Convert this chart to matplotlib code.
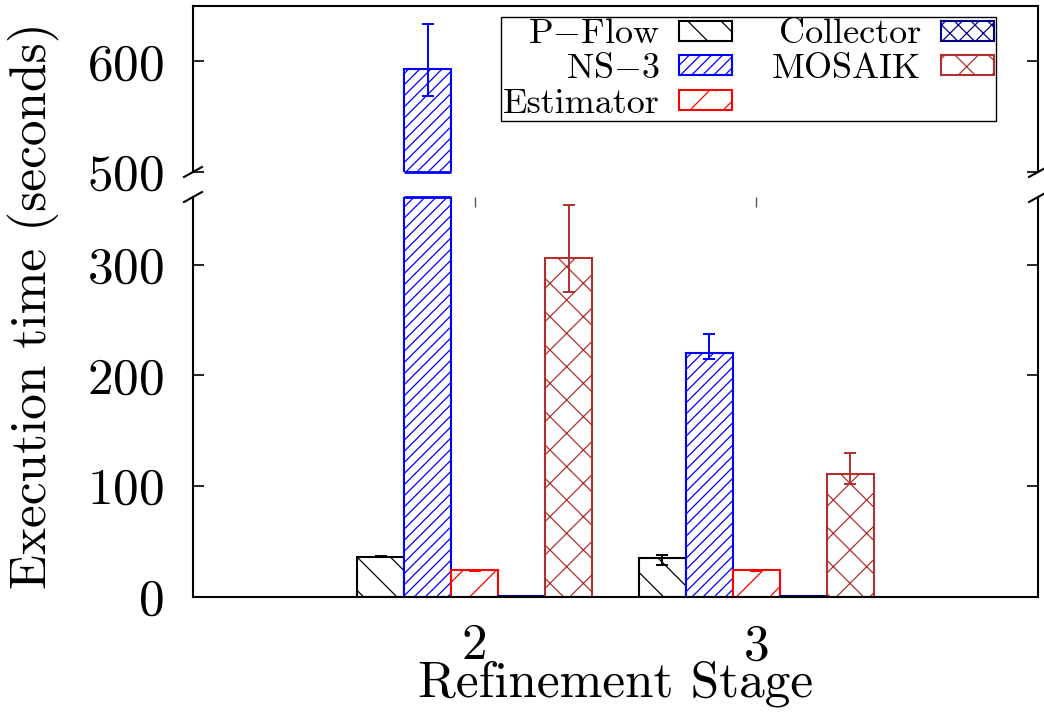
import numpy as np
import matplotlib
matplotlib.use("Agg")
import matplotlib.pyplot as plt

plt.rcParams['font.family'] = 'cmr10'
plt.rcParams['mathtext.fontset'] = 'cm'
plt.rcParams['axes.formatter.use_mathtext'] = True
plt.rcParams['hatch.linewidth'] = 0.9

# data
stages = [2, 3]
stage_labels = ["2", "3"]
series = ["P$-$Flow", "NS$-$3", "Estimator", "Collector", "MOSAIK"]
pflow = [36.5, 35.5]
ns3 = [593, 220]
estimator = [24, 24]
collector = [0.8, 0.8]
mosaik = [306, 111]
pflow_err = [[0.5, 6.5], [0.5, 2.5]]
ns3_err = [[24, 5], [41, 17]]
estimator_err = [[0.3, 0.3], [0.3, 0.3]]
collector_err = [[0, 0], [0, 0]]
mosaik_err = [[31, 9], [48, 19]]

values = [pflow, ns3, estimator, collector, mosaik]
errors = [pflow_err, ns3_err, estimator_err, collector_err, mosaik_err]
colors = ["black", "#0000ff", "#ff0000", "#00008b", "#b03030"]
hatches = ["\\", "///", "/", "xx", "x"]

fig = plt.figure(figsize=(10.44, 7.13), dpi=100)
ax_top = fig.add_axes([0.1849, 0.7588, 0.8094, 0.2328])
ax_bot = fig.add_axes([0.1849, 0.1627, 0.8094, 0.5610])

top_lim = (500, 650)
bot_lim = (0, 361)

w = 1 / 6
x = np.array(stages, dtype=float)
for ax, (lo, hi) in ((ax_top, top_lim), (ax_bot, bot_lim)):
    for i, (vals, err, c, h, name) in enumerate(zip(values, errors, colors, hatches, series)):
        xi = x + (i - 2) * w
        ax.bar(xi, vals, width=w, color="white", edgecolor=c,
               hatch=h, linewidth=1.5, label=name,
               yerr=err, error_kw=dict(ecolor=c, capsize=4, elinewidth=1.4, capthick=1.4))
        # gnuplot draws an edge where a bar is cut by the axis range
        v = np.array(vals)
        cut_top = v > hi
        if cut_top.any():
            ax.hlines(np.full(cut_top.sum(), hi), xi[cut_top] - w / 2, xi[cut_top] + w / 2,
                      color=c, lw=2, clip_on=False, zorder=3)
        cut_bot = v > lo if lo > 0 else np.zeros_like(v, dtype=bool)
        if cut_bot.any():
            ax.hlines(np.full(cut_bot.sum(), lo), xi[cut_bot] - w / 2, xi[cut_bot] + w / 2,
                      color=c, lw=2, clip_on=False, zorder=3)
    ax.set_xlim(1, 4)
    ax.set_ylim(lo, hi)
    for s in ax.spines.values():
        s.set_linewidth(1.5)

ax_top.spines['bottom'].set_visible(False)
ax_bot.spines['top'].set_visible(False)

ax_top.set_yticks([500, 600])
ax_bot.set_yticks([0, 100, 200, 300])
ax_top.set_xticks([])
ax_bot.set_xticks(stages)
ax_bot.set_xticklabels(stage_labels)

for ax in (ax_top, ax_bot):
    ax.tick_params(axis='y', direction='in', left=True, right=True, length=8,
                   width=1.2, labelsize=37, pad=21)
ax_bot.tick_params(axis='x', direction='in', bottom=False, top=True, length=7,
                   width=1, color='#555555', labelsize=37, pad=19)

# break marks on the spines
dx, dy = 9 / 845, 5 / 166
for xs in (0, 1):
    ax_top.plot([xs - dx, xs + dx], [-dy, dy], color='black', lw=1.5,
                transform=ax_top.transAxes, clip_on=False)
dy2 = 5 / 400
for xs in (0, 1):
    ax_bot.plot([xs - dx, xs + dx], [1 - dy2, 1 + dy2], color='black', lw=1.5,
                transform=ax_bot.transAxes, clip_on=False)

ax_bot.set_xlabel("Refinement Stage", fontsize=37)
ax_bot.xaxis.set_label_coords(0.5, -0.25)
ax_bot.xaxis.label.set_va('baseline')
fig.text(0.032, 0.571, "Execution time (seconds)", rotation=90,
         ha='center', va='center', fontsize=37)

handles, labels = ax_top.get_legend_handles_labels()
leg = ax_top.legend(handles, labels, ncol=2, markerfirst=False,
                    loc='upper right', bbox_to_anchor=(996 / 1044, 1 - 17 / 713),
                    bbox_transform=fig.transFigure, fontsize=26,
                    frameon=True, fancybox=False, edgecolor='black',
                    framealpha=1, borderpad=0.05, labelspacing=0.08,
                    handlelength=1.47, handleheight=0.47, handletextpad=0.55,
                    columnspacing=1.1, borderaxespad=0)
leg.get_frame().set_linewidth(1.0)

fig.savefig("out.png", dpi=100)
